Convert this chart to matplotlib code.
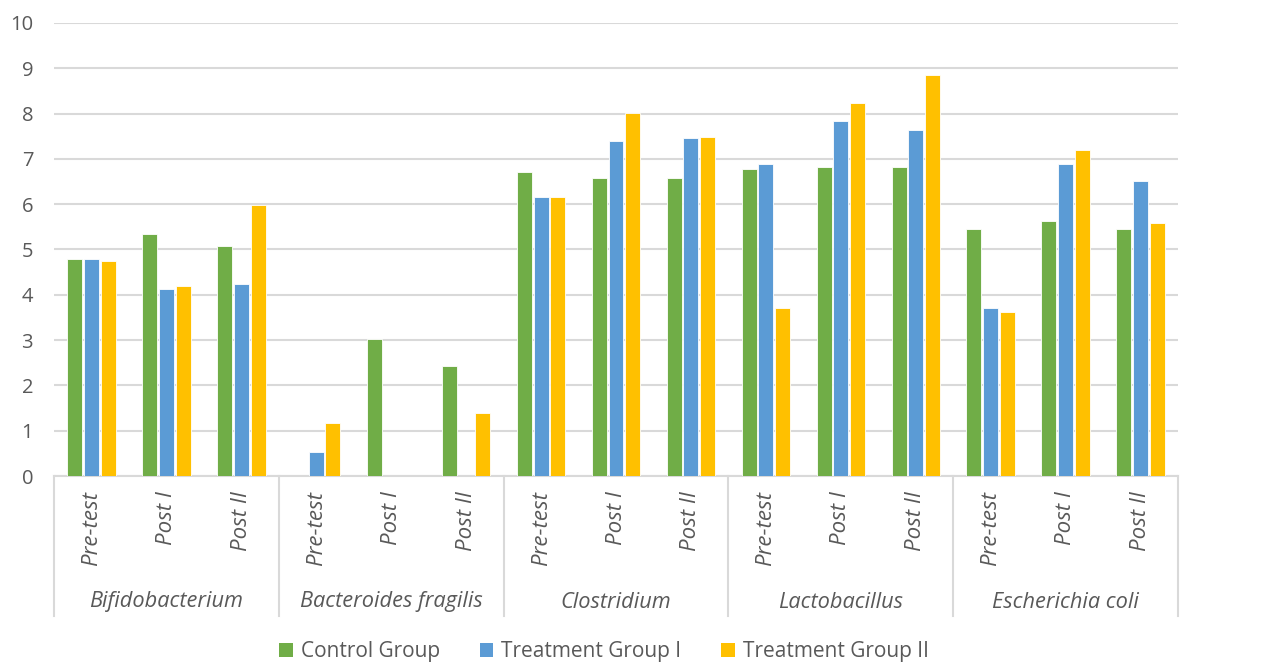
import numpy as np
import matplotlib
matplotlib.use("Agg")
import matplotlib.pyplot as plt
from matplotlib.patches import Patch

plt.rcParams['font.family'] = ['Open Sans', 'DejaVu Sans']

bacteria = ["Bifidobacterium", "Bacteroides fragilis", "Clostridium",
            "Lactobacillus", "Escherichia coli"]
stages = ["Pre-test", "Post I", "Post II"]
groups = ["Control Group", "Treatment Group I", "Treatment Group II"]
colors = ["#70AD47", "#5B9BD5", "#FFC000"]

# values per bacterium, ordered Pre-test, Post I, Post II
control = [4.78, 5.35, 5.07,
           0.00, 3.02, 2.42,
           6.71, 6.58, 6.58,
           6.77, 6.83, 6.83,
           5.46, 5.62, 5.46]
treat_1 = [4.78, 4.13, 4.24,
           0.52, 0.00, 0.00,
           6.15, 7.40, 7.46,
           6.89, 7.83, 7.63,
           3.70, 6.89, 6.52]
treat_2 = [4.75, 4.19, 5.98,
           1.17, 0.00, 1.39,
           6.15, 8.02, 7.49,
           3.70, 8.23, 8.86,
           3.62, 7.20, 5.58]

W, H = 1276, 664
fig = plt.figure(figsize=(W / 100, H / 100), dpi=100)
ax = fig.add_axes([54 / W, (H - 476) / H, (1178 - 54) / W, (476 - 23) / H])

grey = "#D9D9D9"
txt = "#595959"

n = len(control)
x = np.arange(n) + 0.5
step = 0.223
for k, (vals, c) in enumerate(zip([control, treat_1, treat_2], colors)):
    ax.bar(x + (k - 1) * step, vals, width=0.2, color=c,
           edgecolor="white", linewidth=0.6, zorder=3)

ax.set_xlim(0, n)
ax.set_ylim(0, 10)
ax.set_yticks(range(0, 11))
ax.yaxis.grid(True, color=grey, linewidth=1.5, zorder=0)
ax.set_axisbelow(True)
ax.tick_params(axis='y', length=0, pad=15, labelsize=14.5, labelcolor=txt)
ax.set_xticks([])
for s in ["left", "right", "top"]:
    ax.spines[s].set_visible(False)
ax.spines["bottom"].set_color(grey)
ax.spines["bottom"].set_linewidth(1.5)

# two-level category axis below the bars
tr = ax.get_xaxis_transform()
depth = -(616 - 476) / (476 - 23)
for i in range(len(bacteria) + 1):
    ax.plot([i * 3, i * 3], [0, depth], transform=tr, color=grey,
            linewidth=1.5, clip_on=False)
for i, xi in enumerate(x):
    ax.text(xi, -(491 - 476) / 453, stages[i % 3], transform=tr,
            rotation=90, ha="center", va="top", fontsize=16,
            style="italic", color=txt)
for j, name in enumerate(bacteria):
    ax.text(j * 3 + 1.5, -(602 - 476) / 453, name, transform=tr,
            ha="center", va="center", fontsize=15.7, style="italic", color=txt)

handles = [Patch(facecolor=c, edgecolor="none", label=g)
           for g, c in zip(groups, colors)]
fig.legend(handles=handles, loc="center", bbox_to_anchor=(604 / W, 1 - 652 / H),
           ncol=3, frameon=False, fontsize=15, handlelength=0.65,
           handleheight=0.65, handletextpad=0.4, columnspacing=1.9,
           labelcolor=txt)

fig.savefig("out.png", dpi=100, facecolor="white")
